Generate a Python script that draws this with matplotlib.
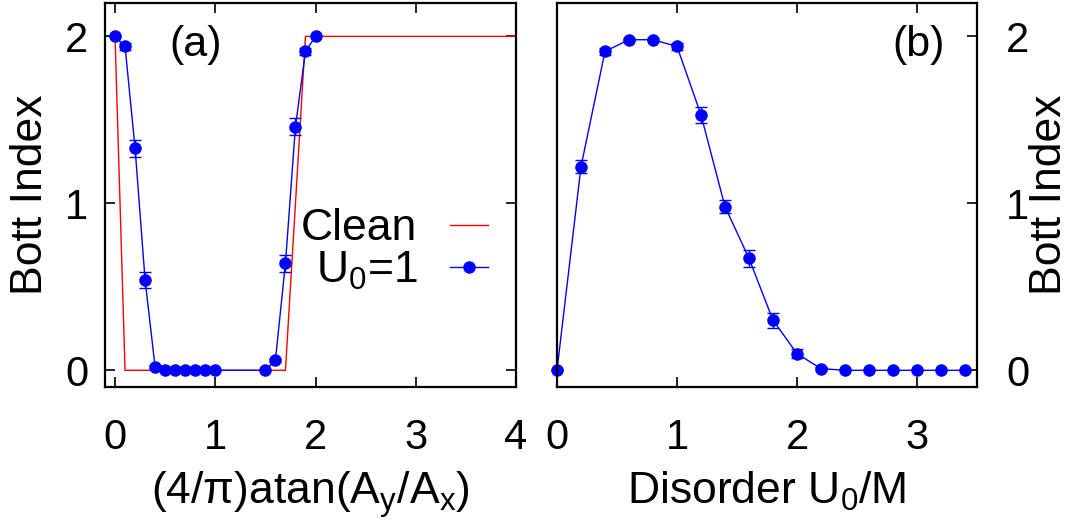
import matplotlib
matplotlib.use("Agg")
import matplotlib.pyplot as plt

# ---- data ----
angle_x = [0.0, 0.1, 0.2, 0.3, 0.4, 0.5, 0.6, 0.7, 0.8, 0.9, 1.0,
           1.5, 1.6, 1.7, 1.8, 1.9, 2.0]
bott_u1 = [2.00, 1.94, 1.33, 0.54, 0.02, 0.0, 0.0, 0.0, 0.0, 0.0, 0.0,
           0.0, 0.06, 0.64, 1.46, 1.91, 2.00]
err_u1 = [0.0, 0.02, 0.05, 0.05, 0.01, 0.0, 0.0, 0.0, 0.0, 0.0, 0.0,
          0.0, 0.01, 0.05, 0.05, 0.02, 0.0]

clean_x = [0.0, 0.1, 1.7, 1.9, 4.0]
clean_y = [2.0, 0.0, 0.0, 2.0, 2.0]

disorder = [0.0, 0.2, 0.4, 0.6, 0.8, 1.0, 1.2, 1.4, 1.6, 1.8, 2.0,
            2.2, 2.4, 2.6, 2.8, 3.0, 3.2, 3.4]
bott_dis = [0.0, 1.22, 1.91, 1.98, 1.98, 1.94, 1.53, 0.98, 0.67, 0.30, 0.10,
            0.01, 0.0, 0.0, 0.0, 0.0, 0.0, 0.0]
err_dis = [0.0, 0.04, 0.02, 0.01, 0.01, 0.02, 0.05, 0.04, 0.05, 0.045, 0.026,
           0.01, 0.0, 0.0, 0.0, 0.0, 0.0, 0.0]

xticks_a = [0, 1, 2, 3, 4]
xticks_b = [0, 1, 2, 3]
yticks = [0, 1, 2]

# ---- style ----
plt.rcParams['font.family'] = ['Liberation Sans', 'DejaVu Sans']
plt.rcParams['mathtext.fontset'] = 'custom'
plt.rcParams['mathtext.rm'] = 'Liberation Sans'
plt.rcParams['mathtext.it'] = 'Liberation Sans'
plt.rcParams['mathtext.sf'] = 'Liberation Sans'
FS_TICK = 30
FS_LAB = 32
FS_PANEL = 31
BLUE = '#0000ff'
RED = '#ff0000'

fig = plt.figure(figsize=(10.75, 5.29), dpi=100)
W, H = 1075, 529
axa = fig.add_axes([105 / W, 1 - 387 / H, (516 - 105) / W, (387 - 3) / H])
axb = fig.add_axes([557 / W, 1 - 387 / H, (977 - 557) / W, (387 - 3) / H])

for ax in (axa, axb):
    for sp in ax.spines.values():
        sp.set_linewidth(1.6)
    ax.tick_params(direction='in', length=7, width=1.2, labelsize=FS_TICK)
    ax.set_ylim(-0.1, 2.2)
    ax.set_yticks(yticks)

# panel (a)
clean_line, = axa.plot(clean_x, clean_y, color=RED, lw=1.0)
eb_a = axa.errorbar(angle_x, bott_u1, yerr=err_u1, color=BLUE, lw=1.0,
                    marker='o', markersize=8, capsize=4, elinewidth=1.0,
                    capthick=1.0)
axa.set_xlim(-0.1, 4.0)
axa.set_xticks(xticks_a)
axa.tick_params(axis='both', top=True, right=True)
axa.tick_params(axis='x', pad=22)
axa.tick_params(axis='y', pad=12)
axa.set_xlabel(r'(4/$\pi$)atan(A$_y$/A$_x$)', fontsize=FS_LAB)
axa.set_ylabel('Bott Index', fontsize=FS_LAB)
axa.yaxis.set_label_coords(-0.131, 0.5)
axa.xaxis.set_label_coords(0.5, -0.215)
axa.text(0.22, 0.89, '(a)', transform=axa.transAxes, fontsize=FS_PANEL,
         ha='center', va='center')
leg = axa.legend(handles=[clean_line, eb_a[0]], labels=['Clean', 'U$_0$=1'],
                 loc='center right', bbox_to_anchor=(0.932, 0.357),
                 fontsize=FS_LAB, frameon=False, markerfirst=False,
                 handlelength=0.86, handletextpad=0.73, labelspacing=0.0,
                 borderaxespad=0.0, borderpad=0.0)

# panel (b)
axb.errorbar(disorder, bott_dis, yerr=err_dis, color=BLUE, lw=1.0, marker='o',
             markersize=8, capsize=4, elinewidth=1.0, capthick=1.0,
             clip_on=False)
axb.set_xlim(0, 3.5)
axb.set_xticks(xticks_b)
axb.tick_params(axis='x', top=True, pad=22)
axb.tick_params(axis='y', left=False, right=True, labelleft=False,
                labelright=True, pad=21)
axb.yaxis.set_label_position('right')
axb.set_xlabel('Disorder U$_0$/M', fontsize=FS_LAB)
axb.set_ylabel('Bott Index', fontsize=FS_LAB)
axb.yaxis.set_label_coords(1.124, 0.5)
axb.xaxis.set_label_coords(0.5, -0.215)
axb.text(0.86, 0.89, '(b)', transform=axb.transAxes, fontsize=FS_PANEL,
         ha='center', va='center')

fig.savefig('out.png', dpi=100)
